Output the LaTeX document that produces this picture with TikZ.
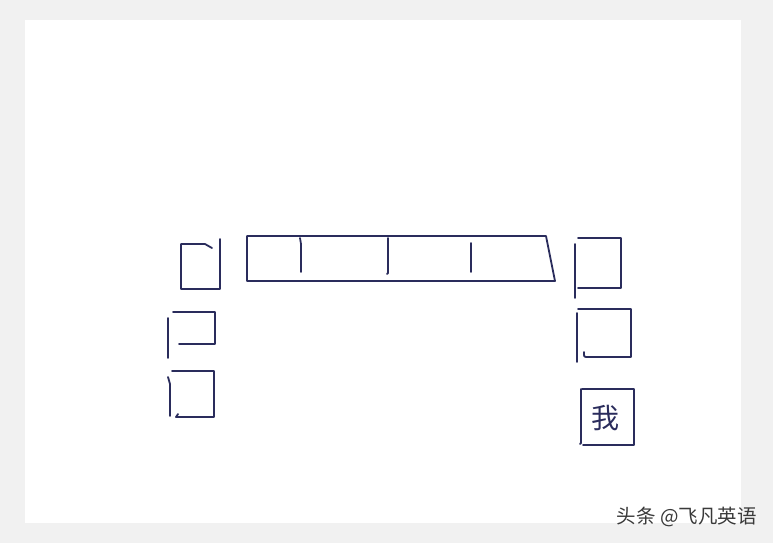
\documentclass[tikz,border=0pt]{standalone}
\usepackage{fontspec}
\newfontfamily\cjk{Noto Sans CJK SC}
\definecolor{ink}{HTML}{2A2C5C}
\definecolor{bgray}{HTML}{F1F1F1}
\definecolor{wm}{HTML}{3A3A3A}
\begin{document}
\begin{tikzpicture}[x=1pt,y=-1pt,
  pen/.style={draw=ink,line width=1.8pt,line cap=round,line join=round}]
\useasboundingbox (0,0) rectangle (773,543);
\fill[bgray] (0,0) rectangle (773,543);
\fill[white] (25,20) rectangle (741,523);
% left column
\draw[pen] (212,248) -- (205,244) -- (181,244) -- (181,289) -- (220,289) -- (220,239);
\draw[pen] (179,344) -- (215,344) -- (215,312) -- (173,312);
\draw[pen] (168,318) -- (168,358);
\draw[pen] (178,414) -- (176,417) -- (214,417) -- (214,371) -- (172,371);
\draw[pen] (168,377) -- (170,384) -- (170,416);
% long box
\draw[pen] (247,236) -- (546,236) -- (555,281) -- (247,281) -- cycle;
\draw[pen] (300,238) -- (301,244) -- (301,272);
\draw[pen] (388,238) -- (388,273) -- (387,274);
\draw[pen] (471,243) -- (471,272);
% right column
\draw[pen] (578,238) -- (621,238) -- (621,288) -- (578,288);
\draw[pen] (575,244) -- (575,298);
\draw[pen] (578,309) -- (631,309) -- (631,357) -- (586,357) .. controls (584,357) .. (584,352);
\draw[pen] (577,313) -- (577,362);
\draw[pen] (582,389) -- (634,389) -- (634,445) -- (583,445);
\draw[pen] (581,389) -- (581,443) -- (580,444);
\node[text=ink,font=\cjk\fontsize{28}{28}\selectfont,inner sep=0pt] (wo) at (605,418) {我};
% watermark
\node[anchor=east,text=wm,font=\cjk\fontsize{19.5}{19.5}\selectfont,inner sep=0pt] (mark) at (757,517) {头条 @飞凡英语};
\end{tikzpicture}
\end{document}
